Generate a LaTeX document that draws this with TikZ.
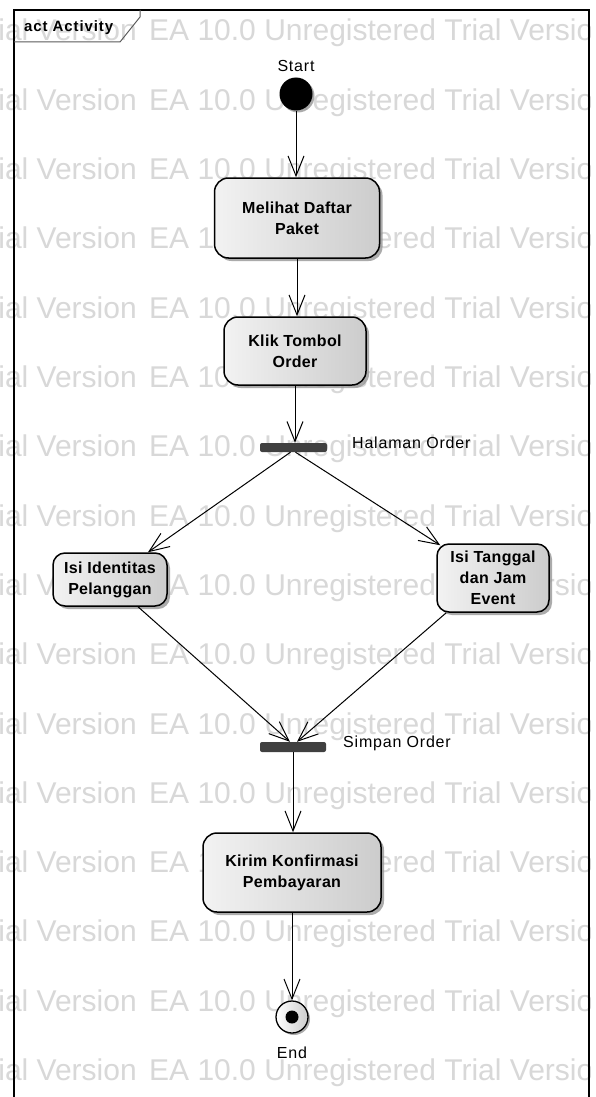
\documentclass[tikz,border=0pt]{standalone}
\usepackage{fontspec}
\setmainfont{Liberation Sans}
\newfontfamily\lsbold[LetterSpace=2]{Liberation Sans}
\newfontfamily\lsreg[LetterSpace=5]{Liberation Sans}
\newfontfamily\lstitle[LetterSpace=6]{Liberation Sans}
\newfontfamily\wmfont{Liberation Sans}
\usetikzlibrary{arrows.meta,shadows,calc}
\definecolor{wmgray}{RGB}{216,216,216}
\definecolor{bargray}{RGB}{64,64,64}
\definecolor{shadowgray}{RGB}{150,150,150}
\definecolor{tabgray}{RGB}{90,90,90}
\tikzset{
  actbox/.style={draw=black, line width=1.5pt, rounded corners=14pt,
    left color=white!95!black, right color=white!80!black,
    drop shadow={shadow xshift=3pt, shadow yshift=-3pt, fill=shadowgray, opacity=0.8},
    font=\lsbold\bfseries\fontsize{16}{21}\selectfont, align=center, inner sep=0pt},
  syncbar/.style={fill=bargray, rounded corners=2pt, inner sep=0pt},
  arr/.style={-{Straight Barb[length=20pt,width=16pt]}, line width=1pt},
  lbl/.style={font=\lsreg\fontsize{16}{19}\selectfont, inner sep=0pt},
  wm/.style={font=\wmfont\fontsize{30}{30}\selectfont, text=wmgray, inner sep=0pt}
}
\begin{document}
\begin{tikzpicture}[x=1pt,y=-1pt]
\useasboundingbox (0,0) rectangle (596,1097);
\fill[white] (0,0) rectangle (596,1097);
% watermark
\begin{scope}
\clip (0,0) rectangle (590,1097);
\foreach \k in {0,...,15} {
  \node[wm, anchor=base west] (wmA\k) at (149, 41+69.3*\k) {EA 10.0 Unregistered Trial Version};
  \node[wm, anchor=base east] (wmB\k) at (137, 41+69.3*\k) {EA 10.0 Unregistered Trial Version};
}
\end{scope}
% frame
\draw[line width=1.2pt] (14,1100) -- (14,10) -- (589,10) -- (589,1100);
\draw[line width=1pt, tabgray] (14,42) -- (120,42) -- (140,17) -- (140,10);
\node[anchor=base west, inner sep=0pt, font=\lstitle\bfseries\fontsize{15}{18}\selectfont] (title) at (24,32) {act Activity};
% nodes
\node[circle, fill=black, minimum size=33pt, inner sep=0pt,
  drop shadow={shadow xshift=2pt, shadow yshift=-2pt, fill=shadowgray, opacity=0.8}] (start) at (296,94) {};
\node[lbl, anchor=base] (startlbl) at (296,72) {Start};
\node[actbox, minimum width=165pt, minimum height=80pt] (melihat) at (297,218) {Melihat Daftar\\Paket};
\node[actbox, minimum width=142pt, minimum height=68pt] (klik) at (295,351) {Klik Tombol\\Order};
\node[syncbar, minimum width=67pt, minimum height=9pt] (fork) at (293.5,447.5) {};
\node[lbl, anchor=base west] (forklbl) at (352,448) {Halaman Order};
\node[actbox, minimum width=114pt, minimum height=53pt, rounded corners=12pt] (identitas) at (110,579.5) {Isi Identitas\\Pelanggan};
\node[actbox, minimum width=112pt, minimum height=68pt, rounded corners=12pt] (tanggal) at (493,578) {Isi Tanggal\\dan Jam\\Event};
\node[syncbar, minimum width=66pt, minimum height=10pt] (join) at (293,747) {};
\node[lbl, anchor=base west] (joinlbl) at (343,747) {Simpan Order};
\node[actbox, minimum width=178pt, minimum height=79pt] (kirim) at (292,872.5) {Kirim Konfirmasi\\Pembayaran};
\node[circle, draw=black, line width=1.3pt, minimum size=32pt, inner sep=0pt,
  left color=white, right color=white!80!black,
  drop shadow={shadow xshift=2pt, shadow yshift=-2pt, fill=shadowgray, opacity=0.8}] (end) at (292,1017) {};
\node[circle, fill=black, minimum size=13pt, inner sep=0pt] (enddot) at (end.center) {};
\node[lbl, anchor=base] (endlbl) at (292,1058) {End};
% edges
\draw[arr] (start) -- (start |- melihat.north);
\draw[arr] (melihat.south) -- (melihat.south |- klik.north);
\draw[arr] (klik.south) -- (klik.south |- fork.north);
\draw[arr] ($(fork.south)+(-3,0)$) -- ($(identitas.north)+(38,0)$);
\draw[arr] ($(fork.south)+(2,0)$) -- ($(tanggal.north west)+(4,2)$);
\draw[arr] ($(identitas.south)+(28,0)$) -- ($(join.north)+(-3,0)$);
\draw[arr] ($(tanggal.south west)+(10,0)$) -- ($(join.north)+(4,0)$);
\draw[arr] (join.south) -- (join.south |- kirim.north);
\draw[arr] (kirim.south) -- (end.north);
\end{tikzpicture}
\end{document}
